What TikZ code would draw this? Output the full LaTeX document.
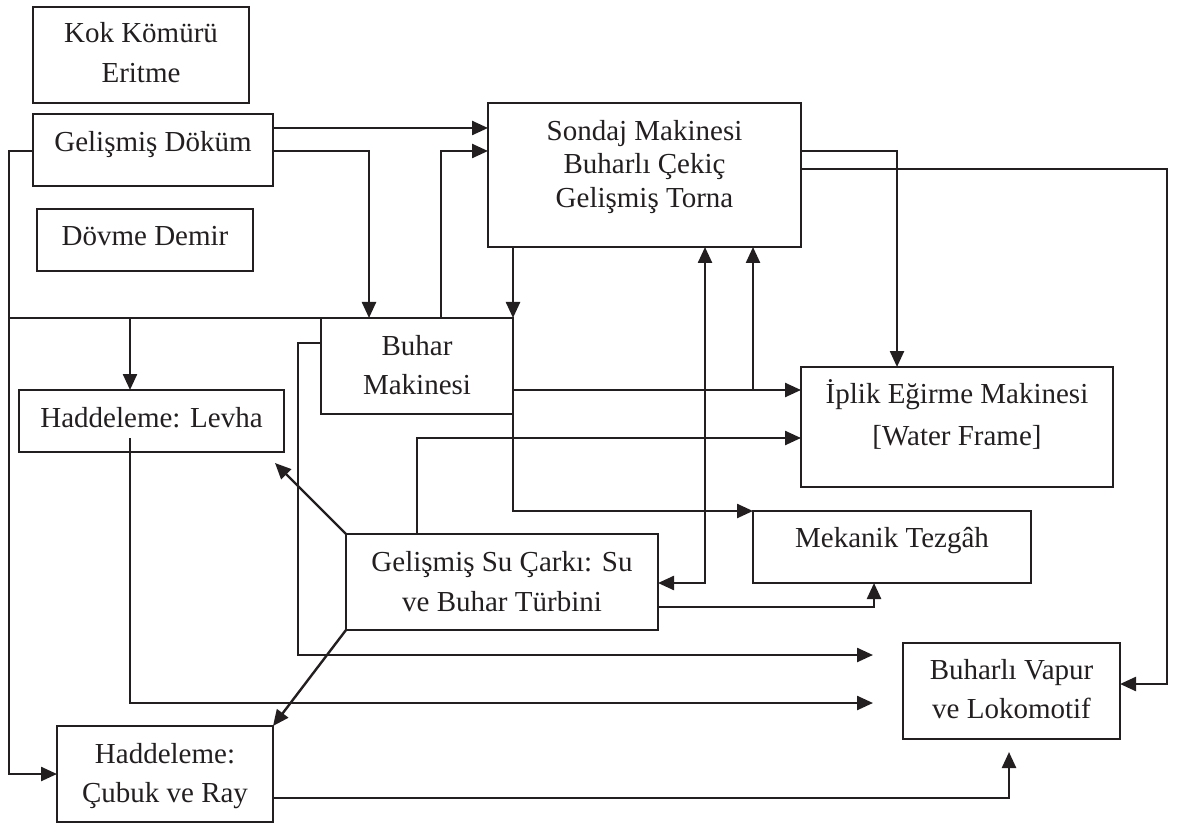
\documentclass[tikz,border=0pt]{standalone}
\usepackage{fontspec}
\setmainfont{Liberation Serif}
\usetikzlibrary{arrows.meta,calc}
\definecolor{ink}{RGB}{35,31,32}
\begin{document}
\begin{tikzpicture}[x=0.5pt,y=-0.5pt,
  box/.style={draw=ink,line width=1pt,inner sep=0pt,outer sep=0pt},
  txt/.style={font=\fontsize{14.5pt}{#1}\selectfont,align=center,inner sep=0pt,text=ink},
  txt/.default=19.5pt,
  wire/.style={draw=ink,line width=1.2pt},
  arr/.style={wire,-{Triangle[length=8pt,width=7pt]}},
  arrs/.style={wire,{Triangle[length=8pt,width=7pt]}-{Triangle[length=8pt,width=7pt]}},
]
\useasboundingbox (0,0) rectangle (1181,823);

% boxes
\node[box,minimum width=108pt,minimum height=48pt]   (kok)     at (141,55)    {};
\node[box,minimum width=120pt,minimum height=36pt]   (dokum)   at (153,150)   {};
\node[box,minimum width=108pt,minimum height=31pt]   (demir)   at (145,240)   {};
\node[box,minimum width=156.5pt,minimum height=72pt] (sondaj)  at (644.5,175) {};
\node[box,minimum width=96pt,minimum height=48pt]    (buhar)   at (417,366)   {};
\node[box,minimum width=132.5pt,minimum height=31pt] (levha)   at (151.5,421) {};
\node[box,minimum width=156pt,minimum height=60pt]   (iplik)   at (957,427)   {};
\node[box,minimum width=139pt,minimum height=36pt]   (mekanik) at (892,547)   {};
\node[box,minimum width=156pt,minimum height=48pt]   (sucark)  at (502,582)   {};
\node[box,minimum width=108.5pt,minimum height=48pt] (vapur)   at (1011.5,691){};
\node[box,minimum width=108pt,minimum height=48pt]   (cubuk)   at (165,774)   {};

% labels
\node[txt=20pt]    (kokT)     at (141,53)     {Kok Kömürü\\Eritme};
\node[txt,anchor=base] (dokumT)   at (153,151.7)  {Gelişmiş Döküm};
\node[txt,anchor=base] (demirT)   at (145,246)    {Dövme Demir};
\node[txt=16.85pt] (sondajT)  at (644.5,167)  {Sondaj Makinesi\\Buharlı Çekiç\\Gelişmiş Torna};
\node[txt=19.3pt]  (buharT)   at (417,365)    {Buhar\\Makinesi};
\node[txt,anchor=base] (levhaT)   at (151.5,427.7){Haddeleme: Levha};
\node[txt=21pt]    (iplikT)   at (957,414)    {İplik Eğirme Makinesi\\{[}Water Frame{]}};
\node[txt,anchor=base] (mekanikT) at (892,547.3)  {Mekanik Tezgâh};
\node[txt=19.65pt] (sucarkT)  at (502,581.5)  {Gelişmiş Su Çarkı: Su\\ve Buhar Türbini};
\node[txt=19.85pt] (vapurT)   at (1011.5,689) {Buharlı Vapur\\ve Lokomotif};
\node[txt=19.5pt]  (cubukT)   at (165,776)    {Haddeleme:\\Çubuk ve Ray};

% junctions and open arrow ends
\coordinate (busL)     at (9,318);
\coordinate (toVapurA) at (873,655);
\coordinate (toVapurB) at (873,703);
\coordinate (toVapurC) at (1009,752);
\coordinate (toLevha)  at (275,463);

% from Gelişmiş Döküm
\draw[arr] (dokum.east |- 0,128) -- (sondaj.west |- 0,128);
\draw[arr] (dokum.east |- 0,151) -| (buhar.north -| 369,0);
\draw[arr] (dokum.west |- 0,151) -- (busL |- 0,151) |- (cubuk.west);

% common line along the top of Buhar Makinesi
\draw[wire] (busL) -- (buhar.north east);
\draw[arr] (sondaj.south -| 513,0) -- (buhar.north east);
\draw[arr] (busL -| 130,0) -- (levha.north -| 130,0);
\draw[arr] (busL -| 441,0) |- (sondaj.west |- 0,151);
\draw[arr] (buhar.north east) |- (mekanik.north west);

% from Buhar Makinesi
\draw[arr] (buhar.east |- 0,390) -- (iplik.west |- 0,390);
\draw[arr] (753,390) -- (sondaj.south -| 753,0);
\draw[arr] (buhar.west |- 0,343) -| (298,655) -- (toVapurA);

% from Haddeleme: Levha
\draw[arr] ($(levha.south -| 130,0)+(0,-14)$) |- (toVapurB);

% from Sondaj Makinesi
\draw[arr] (sondaj.east |- 0,151) -| (iplik.north -| 897,0);
\draw[arr] (sondaj.east |- 0,169) -| (1167,684) -- (vapur.east |- 0,684);

% from Gelişmiş Su Çarkı
\draw[arr] (sucark.north -| 417,0) |- (iplik.west |- 0,438);
\draw[arrs] (sucark.east |- 0,583) -| (sondaj.south -| 705,0);
\draw[arr] (sucark.east |- 0,607) -| (mekanik.south -| 874,0);
\draw[arr] (sucark.north west) -- (toLevha);
\draw[arr] (sucark.south west) -- (cubuk.north east);

% from Haddeleme: Çubuk ve Ray
\draw[arr] (cubuk.east |- 0,798) -| (toVapurC);
\end{tikzpicture}
\end{document}
